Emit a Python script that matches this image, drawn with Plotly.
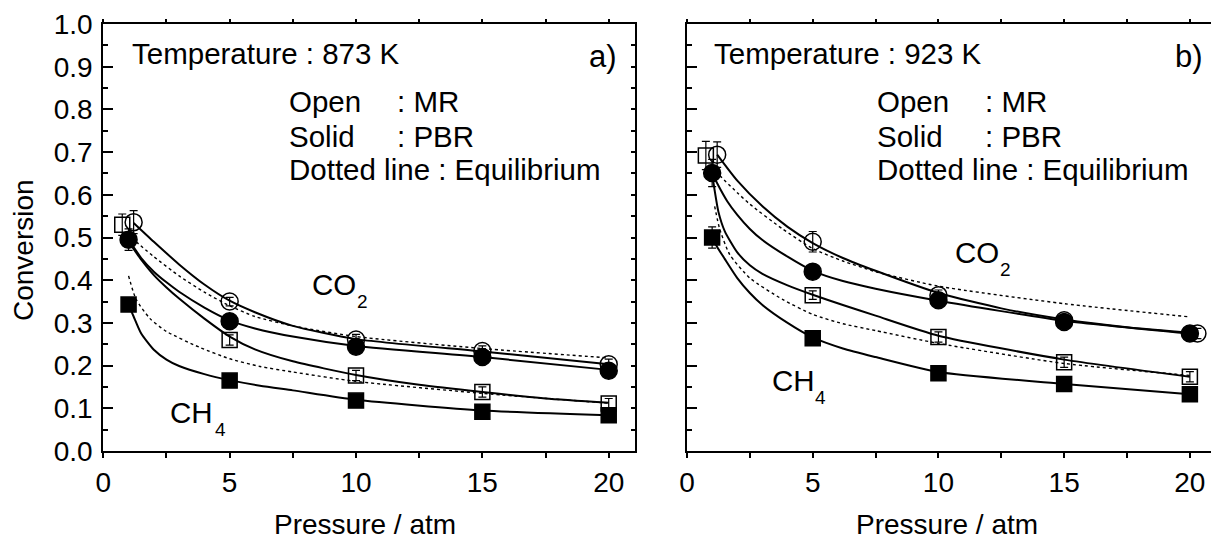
import plotly.graph_objects as go

# ---------------- data ----------------
X_TICKS = [0, 5, 10, 15, 20]
Y_TICKS = [0.0, 0.1, 0.2, 0.3, 0.4, 0.5, 0.6, 0.7, 0.8, 0.9, 1.0]
Y_TICKTEXT = ["0.0", "0.1", "0.2", "0.3", "0.4", "0.5", "0.6", "0.7", "0.8", "0.9", "1.0"]

# panel a) 873 K : experimental points
a_x_mr_ch4 = [0.75, 5, 10, 15, 20]
a_mr_ch4 = [0.530, 0.260, 0.177, 0.138, 0.111]
a_err_mr_ch4 = [0.025, 0.012, 0.012, 0.012, 0.012]
a_x_mr_co2 = [1.2, 5, 10, 15, 20]
a_mr_co2 = [0.536, 0.350, 0.261, 0.234, 0.203]
a_err_mr_co2 = [0.027, 0.010, 0.012, 0.012, 0.012]
a_x_pbr = [1, 5, 10, 15, 20]
a_pbr_co2 = [0.495, 0.304, 0.244, 0.220, 0.188]
a_err_pbr_co2 = [0.025, 0.010, 0.010, 0.010, 0.010]
a_pbr_ch4 = [0.343, 0.165, 0.118, 0.092, 0.084]
a_err_pbr_ch4 = [0.008, 0.008, 0.008, 0.008, 0.008]

# panel a) fitted (solid) and equilibrium (dotted) curves
a_fit_mr_co2_x = [1.2, 2, 3, 4, 5, 6, 7.5, 10, 15, 20]
a_fit_mr_co2 = [0.534, 0.490, 0.437, 0.390, 0.352, 0.325, 0.293, 0.262, 0.233, 0.203]
a_eq_co2_x = [1.3, 2, 3, 4, 5, 6, 7.5, 10, 15, 20]
a_eq_co2 = [0.490, 0.455, 0.410, 0.372, 0.340, 0.315, 0.293, 0.268, 0.240, 0.218]
a_fit_pbr_co2_x = [1, 1.5, 2, 2.5, 3, 4, 5, 6, 7.5, 10, 15, 20]
a_fit_pbr_co2 = [0.495, 0.452, 0.420, 0.395, 0.373, 0.336, 0.306, 0.287, 0.268, 0.246, 0.220, 0.190]
a_fit_mr_ch4_x = [1, 1.5, 2, 2.5, 3, 4, 5, 6, 7.5, 10, 12.5, 15, 17.5, 20]
a_fit_mr_ch4 = [0.490, 0.448, 0.412, 0.383, 0.357, 0.310, 0.268, 0.238, 0.210, 0.178, 0.155, 0.138, 0.123, 0.113]
a_eq_ch4_x = [1, 1.3, 1.85, 2.5, 3.8, 5, 6.2, 7.5, 10, 15, 20]
a_eq_ch4 = [0.410, 0.355, 0.310, 0.280, 0.243, 0.216, 0.198, 0.185, 0.163, 0.135, 0.112]
a_fit_pbr_ch4_x = [1, 1.2, 1.5, 2, 2.5, 3, 4, 5, 6.2, 7.5, 10, 15, 20]
a_fit_pbr_ch4 = [0.343, 0.315, 0.275, 0.237, 0.214, 0.199, 0.180, 0.166, 0.153, 0.142, 0.120, 0.095, 0.084]

# panel b) 923 K : experimental points
b_x_mr_ch4 = [0.75, 5, 10, 15, 20]
b_mr_ch4 = [0.692, 0.365, 0.267, 0.208, 0.174]
b_err_mr_ch4 = [0.033, 0.010, 0.012, 0.012, 0.012]
b_x_mr_co2 = [1.2, 5, 10, 15, 20.3]
b_mr_co2 = [0.694, 0.490, 0.365, 0.306, 0.275]
b_err_mr_co2 = [0.030, 0.024, 0.012, 0.012, 0.012]
b_x_pbr = [1, 5, 10, 15, 20]
b_pbr_co2 = [0.651, 0.420, 0.353, 0.302, 0.275]
b_err_pbr_co2 = [0.032, 0.010, 0.010, 0.010, 0.010]
b_pbr_ch4 = [0.500, 0.264, 0.182, 0.157, 0.133]
b_err_pbr_ch4 = [0.025, 0.008, 0.008, 0.008, 0.008]

# panel b) fitted (solid) and equilibrium (dotted) curves
b_fit_mr_co2_x = [1.2, 2, 3, 4, 5, 6.2, 7.5, 10, 12.5, 15, 17.5, 20.3]
b_fit_mr_co2 = [0.694, 0.633, 0.573, 0.525, 0.487, 0.452, 0.422, 0.370, 0.334, 0.308, 0.290, 0.276]
b_eq_co2_x = [1.3, 2, 2.5, 3.8, 5, 6.2, 7.5, 10, 15, 20]
b_eq_co2 = [0.645, 0.605, 0.578, 0.520, 0.474, 0.445, 0.420, 0.386, 0.345, 0.314]
b_fit_pbr_co2_x = [1, 1.2, 1.6, 2, 2.5, 3, 4, 5, 6.2, 7.5, 10, 15, 20]
b_fit_pbr_co2 = [0.651, 0.627, 0.585, 0.553, 0.520, 0.494, 0.455, 0.422, 0.398, 0.380, 0.352, 0.305, 0.275]
b_fit_mr_ch4_x = [1, 1.1, 1.25, 1.5, 2, 2.5, 3, 4, 5, 6.2, 7.5, 10, 15, 20]
b_fit_mr_ch4 = [0.650, 0.610, 0.560, 0.515, 0.465, 0.435, 0.415, 0.388, 0.366, 0.342, 0.317, 0.270, 0.214, 0.174]
b_eq_ch4_x = [1.1, 1.3, 1.7, 2.5, 3.8, 5, 6.2, 7.5, 10, 15, 20]
b_eq_ch4 = [0.573, 0.520, 0.460, 0.405, 0.355, 0.320, 0.298, 0.282, 0.252, 0.205, 0.177]
b_fit_pbr_ch4_x = [1, 1.2, 1.5, 2, 2.5, 3, 4, 5, 6.2, 7.5, 10, 15, 20]
b_fit_pbr_ch4 = [0.500, 0.478, 0.450, 0.405, 0.370, 0.342, 0.300, 0.266, 0.240, 0.220, 0.185, 0.157, 0.133]

# ---------------- figure ----------------
W, H = 1211, 542
FONT = "Liberation Sans, Arial, sans-serif"
BLACK = "#000000"

fig = go.Figure()


def add_curve(x, y, xa, ya, dotted=False):
    fig.add_trace(go.Scatter(
        x=x, y=y, xaxis=xa, yaxis=ya, mode="lines",
        line=dict(color=BLACK, width=1.4 if dotted else 2,
                  dash="dot" if dotted else "solid", shape="spline", smoothing=0.6),
        showlegend=False, hoverinfo="skip"))


def add_points(x, y, err, xa, ya, symbol, size):
    fig.add_trace(go.Scatter(
        x=x, y=y, xaxis=xa, yaxis=ya, mode="markers", cliponaxis=False,
        marker=dict(symbol=symbol, size=size, color=BLACK,
                    line=dict(color=BLACK, width=1.5)),
        error_y=dict(type="data", array=err, visible=True, color=BLACK,
                     thickness=1.2, width=4),
        showlegend=False, hoverinfo="skip"))


for xa, ya, P in [("x", "y", "a"), ("x2", "y2", "b")]:
    g = globals()
    add_curve(g[P + "_fit_mr_co2_x"], g[P + "_fit_mr_co2"], xa, ya)
    add_curve(g[P + "_fit_pbr_co2_x"], g[P + "_fit_pbr_co2"], xa, ya)
    add_curve(g[P + "_fit_mr_ch4_x"], g[P + "_fit_mr_ch4"], xa, ya)
    add_curve(g[P + "_fit_pbr_ch4_x"], g[P + "_fit_pbr_ch4"], xa, ya)
    add_curve(g[P + "_eq_co2_x"], g[P + "_eq_co2"], xa, ya, dotted=True)
    add_curve(g[P + "_eq_ch4_x"], g[P + "_eq_ch4"], xa, ya, dotted=True)
    add_points(g[P + "_x_mr_ch4"], g[P + "_mr_ch4"], g[P + "_err_mr_ch4"], xa, ya, "square-open", 15)
    add_points(g[P + "_x_mr_co2"], g[P + "_mr_co2"], g[P + "_err_mr_co2"], xa, ya, "circle-open", 17)
    add_points(g[P + "_x_pbr"], g[P + "_pbr_ch4"], g[P + "_err_pbr_ch4"], xa, ya, "square", 15)
    add_points(g[P + "_x_pbr"], g[P + "_pbr_co2"], g[P + "_err_pbr_co2"], xa, ya, "circle", 17)

# empty traces so that the mirror (decorative) axes get drawn
for xa, ya in [("x3", "y"), ("x", "y3"), ("x4", "y2")]:
    fig.add_trace(go.Scatter(x=[None], y=[None], xaxis=xa, yaxis=ya,
                             showlegend=False, hoverinfo="skip"))

XR_A = [0, 21.04]
XR_B = [0, 20.84]
YR = [0, 1.0]
YDOM = [1 - 451 / H, 1 - 24 / H]
XDOM_A = [103.3 / W, 635 / W]
XDOM_B = [687 / W, 1.0]

tickfont = dict(family=FONT, size=28, color=BLACK)

xbase = dict(range=XR_A, tickmode="array", tickvals=X_TICKS, ticks="outside",
             ticklen=5, tickwidth=2, tickcolor=BLACK, showline=True, linewidth=2,
             linecolor=BLACK, showgrid=False, zeroline=False, tickfont=tickfont,
             minor=dict(dtick=2.5, tick0=0, ticks="outside", ticklen=5, tickwidth=1.5,
                        tickcolor=BLACK, showgrid=False),
             automargin=False, ticklabelstandoff=0)
ybase = dict(range=YR, tickmode="array", tickvals=Y_TICKS, ticktext=Y_TICKTEXT,
             ticks="inside", ticklen=10, tickwidth=2, tickcolor=BLACK, showline=True,
             linewidth=2, linecolor=BLACK, showgrid=False, zeroline=False,
             tickfont=tickfont, domain=YDOM, automargin=False, ticklabelstandoff=3,
             minor=dict(dtick=0.05, tick0=0, ticks="inside", ticklen=5, tickwidth=1.5,
                        tickcolor=BLACK, showgrid=False))

fig.update_layout(
    width=W, height=H,
    margin=dict(l=0, r=0, t=0, b=0, pad=0),
    paper_bgcolor="white", plot_bgcolor="white",
    font=dict(family=FONT, color=BLACK, size=28),
    showlegend=False,
    xaxis=dict(xbase, domain=XDOM_A, anchor="y", range=XR_A),
    yaxis=dict(ybase, anchor="x"),
    xaxis2=dict(xbase, domain=XDOM_B, anchor="y2", range=XR_B),
    yaxis2=dict(ybase, anchor="x2", showticklabels=False),
    xaxis3=dict(overlaying="x", side="top", anchor="y", range=XR_A, dtick=2.5, tick0=0,
                ticks="outside", ticklen=3, tickwidth=1.5, tickcolor=BLACK,
                showticklabels=False, showline=True, linewidth=2, linecolor=BLACK,
                showgrid=False, zeroline=False),
    yaxis3=dict(overlaying="y", side="right", anchor="x", range=YR, dtick=0.05, tick0=0,
                ticks="inside", ticklen=4, tickwidth=1.5, tickcolor=BLACK,
                showticklabels=False, showline=True, linewidth=2, linecolor=BLACK,
                showgrid=False, zeroline=False),
    xaxis4=dict(overlaying="x2", side="top", anchor="y2", range=XR_B, dtick=2.5, tick0=0,
                ticks="outside", ticklen=3, tickwidth=1.5, tickcolor=BLACK,
                showticklabels=False, showline=True, linewidth=2, linecolor=BLACK,
                showgrid=False, zeroline=False),
)

ann = []


def txt(text, x, y, xref, yref, size=29.5, xanchor="left", yanchor="middle", angle=0):
    ann.append(dict(text=text, x=x, y=y, xref=xref, yref=yref, showarrow=False,
                    xanchor=xanchor, yanchor=yanchor, textangle=angle,
                    font=dict(family=FONT, size=size, color=BLACK)))


# axis titles (paper coords)
txt("Conversion", 24 / W, 1 - 250 / H, "paper", "paper", size=28, xanchor="center", angle=-90)
txt("Pressure / atm", 365 / W, 0, "paper", "paper", size=28, xanchor="center", yanchor="bottom")
txt("Pressure / atm", 947 / W, 0, "paper", "paper", size=28, xanchor="center", yanchor="bottom")

# panel a texts
txt("Temperature : 873 K", 1.06, 0.932, "x", "y")
txt("a)", 20.4, 0.925, "x", "y", size=31, xanchor="right")
txt("Open", 7.27, 0.818, "x", "y")
txt(": MR", 11.54, 0.818, "x", "y")
txt("Solid", 7.27, 0.737, "x", "y")
txt(": PBR", 11.54, 0.737, "x", "y")
txt("Dotted line : Equilibrium", 7.27, 0.659, "x", "y")
txt("CO", 8.18, 0.390, "x", "y")
txt("2", 9.96, 0.350, "x", "y", size=19)
txt("CH", 2.56, 0.091, "x", "y")
txt("4", 4.35, 0.051, "x", "y", size=19)

# panel b texts
txt("Temperature : 923 K", 0.99, 0.932, "x2", "y2")
txt("b)", 20.6, 0.925, "x2", "y2", size=31, xanchor="right")
txt("Open", 7.48, 0.818, "x2", "y2")
txt(": MR", 11.77, 0.818, "x2", "y2")
txt("Solid", 7.48, 0.737, "x2", "y2")
txt(": PBR", 11.77, 0.737, "x2", "y2")
txt("Dotted line : Equilibrium", 7.48, 0.659, "x2", "y2")
txt("CO", 10.58, 0.464, "x2", "y2")
txt("2", 12.37, 0.424, "x2", "y2", size=19)
txt("CH", 3.30, 0.165, "x2", "y2")
txt("4", 5.01, 0.125, "x2", "y2", size=19)

fig.update_layout(annotations=ann)

fig.write_html(
    "out.html",
    config={"displayModeBar": False},
    post_script="document.body.style.margin='0';document.body.style.overflow='hidden';",
)
